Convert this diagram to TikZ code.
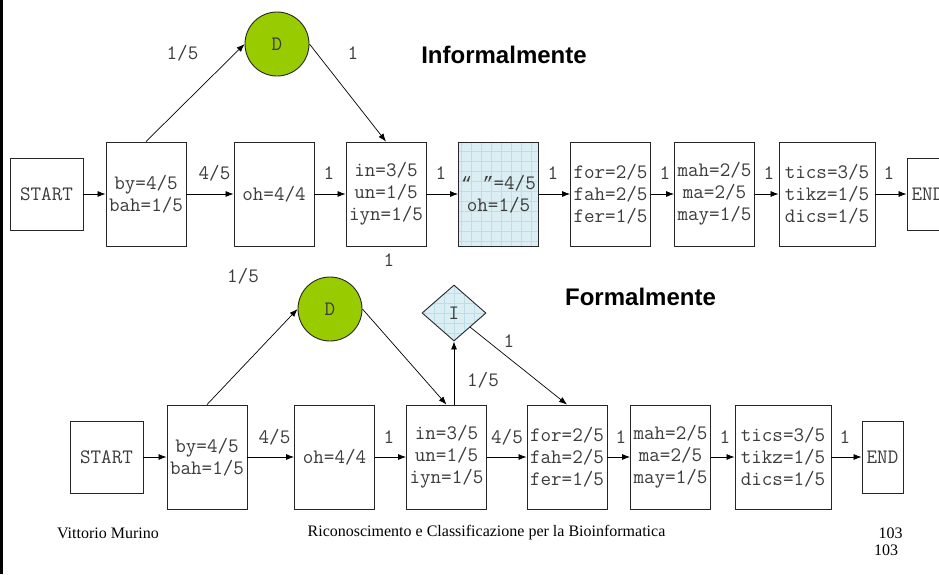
\documentclass[tikz,border=0pt]{standalone}
\usepackage{fontspec}
\setmainfont{Liberation Serif}
\newfontfamily\headfont{Liberation Sans}
\newfontfamily\quotefont{Liberation Mono}
\usetikzlibrary{arrows.meta,shapes.geometric}
\definecolor{txt}{RGB}{60,60,60}
\definecolor{dgreen}{RGB}{153,204,0}
\definecolor{paleblue}{RGB}{218,238,243}
\definecolor{gridblue}{RGB}{188,222,230}
\newcommand\monotext{\ttfamily\fontsize{20.5}{22}\selectfont}
\newcommand\qmarks{{\quotefont\fontsize{18}{22}\selectfont“\makebox[10.8pt]{}”}}
\tikzset{
  box/.style={draw=black!85, line width=0.9pt, minimum width=80pt, minimum height=104pt,
    inner sep=0pt, align=center, font=\monotext, text=txt},
  gridfill/.style={path picture={
      \fill[paleblue] (path picture bounding box.south west) rectangle (path picture bounding box.north east);
      \draw[gridblue, line width=0.4pt, step=10pt] (path picture bounding box.south west) grid (path picture bounding box.north east);}},
  dnode/.style={circle, draw=black!85, line width=0.9pt, fill=dgreen, minimum size=64pt,
    inner sep=0pt, font=\monotext, text=txt},
  inode/.style={diamond, draw=black!85, line width=0.9pt, minimum width=64pt, minimum height=56pt,
    inner sep=0pt, font=\monotext, text=txt, gridfill},
  arr/.style={-{Latex[length=8pt,width=6pt]}, line width=0.7pt, black},
  lab/.style={font=\monotext, text=txt, inner sep=0pt},
  title/.style={font=\headfont\bfseries\fontsize{24}{28}\selectfont, inner sep=0pt},
  foot/.style={font=\fontsize{16}{18}\selectfont, inner sep=0pt},
}
\begin{document}
\begin{tikzpicture}[x=1pt,y=-1pt]
\useasboundingbox (0,0) rectangle (939,574);
\fill[white] (0,0) rectangle (939,574);
\fill[black] (0,0) rectangle (2.5,574);

% informal model
\node[box, minimum width=73pt, minimum height=72pt] (s1) at (46.5,194) {START};
\node[box] (by1) at (146,194) {by=4/5\\bah=1/5};
\node[box] (oh1) at (274,194) {oh=4/4};
\node[box] (in1) at (386,194) {in=3/5\\un=1/5\\iyn=1/5};
\node[box, gridfill] (q1) at (498.5,194) {\qmarks=4/5\\oh=1/5};
\node[box] (for1) at (610.5,194) {for=2/5\\fah=2/5\\fer=1/5};
\node[box] (mah1) at (714.5,194) {mah=2/5\\ma=2/5\\may=1/5};
\node[box, minimum width=96pt] (tics1) at (827,194) {tics=3/5\\tikz=1/5\\dics=1/5};
\node[box, minimum width=41pt, minimum height=72pt] (e1) at (927.5,194) {END};
\node[dnode] (d1) at (277,44) {D};

\draw[arr] (s1) -- (by1);
\draw[arr] (by1) -- (oh1);
\draw[arr] (oh1) -- (in1);
\draw[arr] (in1) -- (q1);
\draw[arr] (q1) -- (for1);
\draw[arr] (for1) -- (mah1);
\draw[arr] (mah1) -- (tics1);
\draw[arr] (tics1) -- (e1);
\draw[arr] (by1.north) -- (d1.west);
\draw[arr] (d1.east) -- (in1.north);

\node[lab] at (182.5,53) {1/5};
\node[lab] at (353,53) {1};
\node[lab] at (214.5,173) {4/5};
\node[lab] at (329,173) {1};
\node[lab] at (441,173) {1};
\node[lab] at (553,173) {1};
\node[lab] at (665,173) {1};
\node[lab] at (769,173) {1};
\node[lab] at (889,173) {1};
\node[title] at (504,55) {Informalmente};

% formal model
\node[box, minimum width=73pt, minimum height=72pt] (s2) at (106.5,457) {START};
\node[box] (by2) at (207,457) {by=4/5\\bah=1/5};
\node[box] (oh2) at (334.5,457) {oh=4/4};
\node[box] (in2) at (446.5,457) {in=3/5\\un=1/5\\iyn=1/5};
\node[box] (for2) at (567,457) {for=2/5\\fah=2/5\\fer=1/5};
\node[box] (mah2) at (670.5,457) {mah=2/5\\ma=2/5\\may=1/5};
\node[box, minimum width=96pt] (tics2) at (783,457) {tics=3/5\\tikz=1/5\\dics=1/5};
\node[box, minimum width=41pt, minimum height=72pt] (e2) at (882.5,457) {END};
\node[dnode] (d2) at (330,309) {D};
\node[inode] (i2) at (454,313) {I};

\draw[arr] (s2) -- (by2);
\draw[arr] (by2) -- (oh2);
\draw[arr] (oh2) -- (in2);
\draw[arr] (in2) -- (for2);
\draw[arr] (for2) -- (mah2);
\draw[arr] (mah2) -- (tics2);
\draw[arr] (tics2) -- (e2);
\draw[arr] (by2.north) -- (d2.west);
\draw[arr] (d2.east) -- (in2.north);
\draw[arr] ([xshift=7.5pt]in2.north) -- (i2.south);
\draw[arr] (i2.south east) -- (for2.north);

\node[lab] at (243,276) {1/5};
\node[lab] at (389,260) {1};
\node[lab] at (509,341) {1};
\node[lab] at (483,380) {1/5};
\node[lab] at (274.5,437) {4/5};
\node[lab] at (389,437) {1};
\node[lab] at (507,437) {4/5};
\node[lab] at (621,437) {1};
\node[lab] at (725,437) {1};
\node[lab] at (845,437) {1};
\node[title] at (640.5,297) {Formalmente};

% slide footer
\node[foot] at (108,533) {Vittorio Murino};
\node[foot] at (486.5,533) {Riconoscimento e Classificazione per la Bioinformatica};
\node[foot] at (890.5,533) {103};
\node[foot] at (886,550) {103};
\end{tikzpicture}
\end{document}
